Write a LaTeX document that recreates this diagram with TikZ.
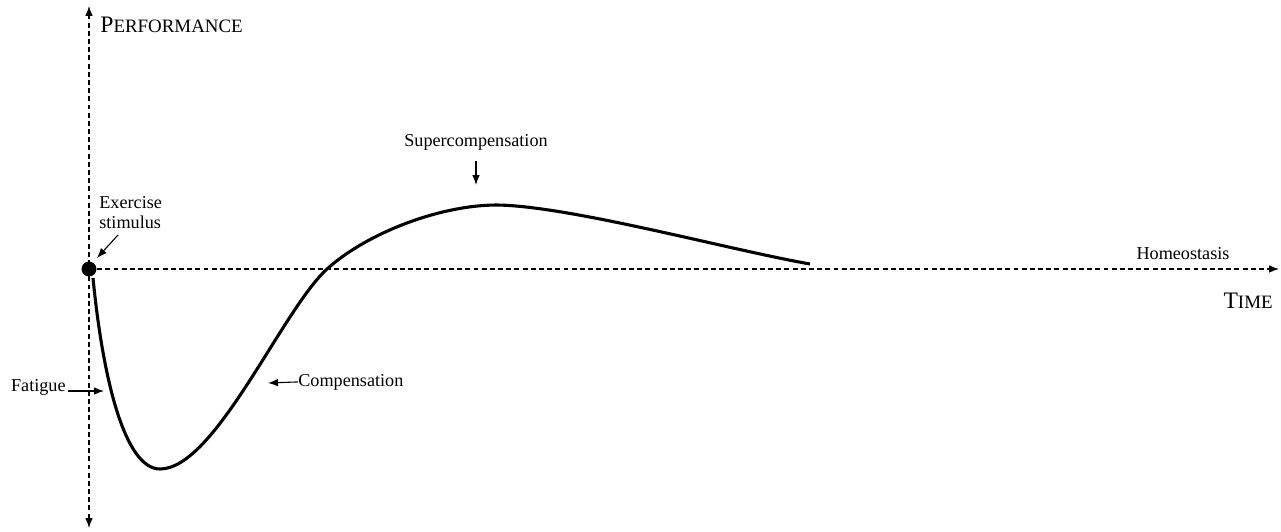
\documentclass[tikz,border=0pt]{standalone}
\usepackage{fontspec}
\setmainfont{Liberation Serif}
\usepackage{tikz}
\usetikzlibrary{arrows.meta,positioning,calc}
\newcommand{\fakesc}[2]{{\fontsize{13}{15}\selectfont #1}{\fontsize{10.4}{12}\selectfont #2}}

\begin{document}
\begin{tikzpicture}[
  >={Latex[length=5.5pt,width=4.2pt]}, x=0.55pt, y=-0.55pt,
  font=\fontsize{10}{11}\selectfont,
  axis/.style={line width=0.6pt, dash pattern=on 2.7pt off 1.8pt},
  curve/.style={line width=1.7pt, line cap=butt},
  pointer/.style={->, line width=0.6pt},
  lbl/.style={inner sep=0pt, align=left},
  dot/.style={circle, fill=black, minimum size=8.2pt, inner sep=0pt}]

  \useasboundingbox (0,0) rectangle (1281,531);

  % ---------- axes ----------
  \coordinate (o)    at (89,269);
  \coordinate (ytop) at (89,6);
  \coordinate (ybot) at (89,528);
  \coordinate (xend) at (1279,269);
  \draw[axis,<->] (ybot) -- (ytop);
  \draw[axis,->] (o) -- (xend);
  \node[lbl,anchor=base west] (perf) at (100,33) {\fakesc{P}{ERFORMANCE}};
  \node[lbl,anchor=base east] (time) at (1273,308) {\fakesc{T}{IME}};
  \node[lbl,anchor=base] (homeo) at (1183,259) {Homeostasis};

  % ---------- response curve ----------
  \draw[curve] (93,278) .. controls (103,380) and (125,469) .. (160,469)
                        .. controls (215,469) and (282,310) .. (327,269)
                        .. controls (367,233) and (440,205) .. (497,205)
                        .. controls (570,206) and (730,250) .. (810,264);
  \node[dot] (stim) at (o) {};

  % ---------- labels and pointers ----------
  \node[lbl,anchor=base west] (exer) at (99,228) {Exercise\\stimulus};
  \coordinate (exerFrom) at (118,235);
  \coordinate (exerTip)  at (97,258);
  \draw[pointer] (exerFrom) -- (exerTip);

  \node[lbl,anchor=base east] (fat) at (66,391) {Fatigue};
  \coordinate (fatTip) at (104,391);
  \draw[pointer] (fat.base east) ++(2,0) -- (fatTip);

  \node[lbl,anchor=base west] (comp) at (298,386) {Compensation};
  \coordinate (compTip) at (268,383);
  \draw[pointer] (comp.west) -- (compTip);

  \node[lbl,anchor=base] (supc) at (476,147) {Supercompensation};
  \coordinate (supcFrom) at (476,161);
  \coordinate (supcTip)  at (476,185);
  \draw[pointer] (supcFrom) -- (supcTip);

\end{tikzpicture}
\end{document}
